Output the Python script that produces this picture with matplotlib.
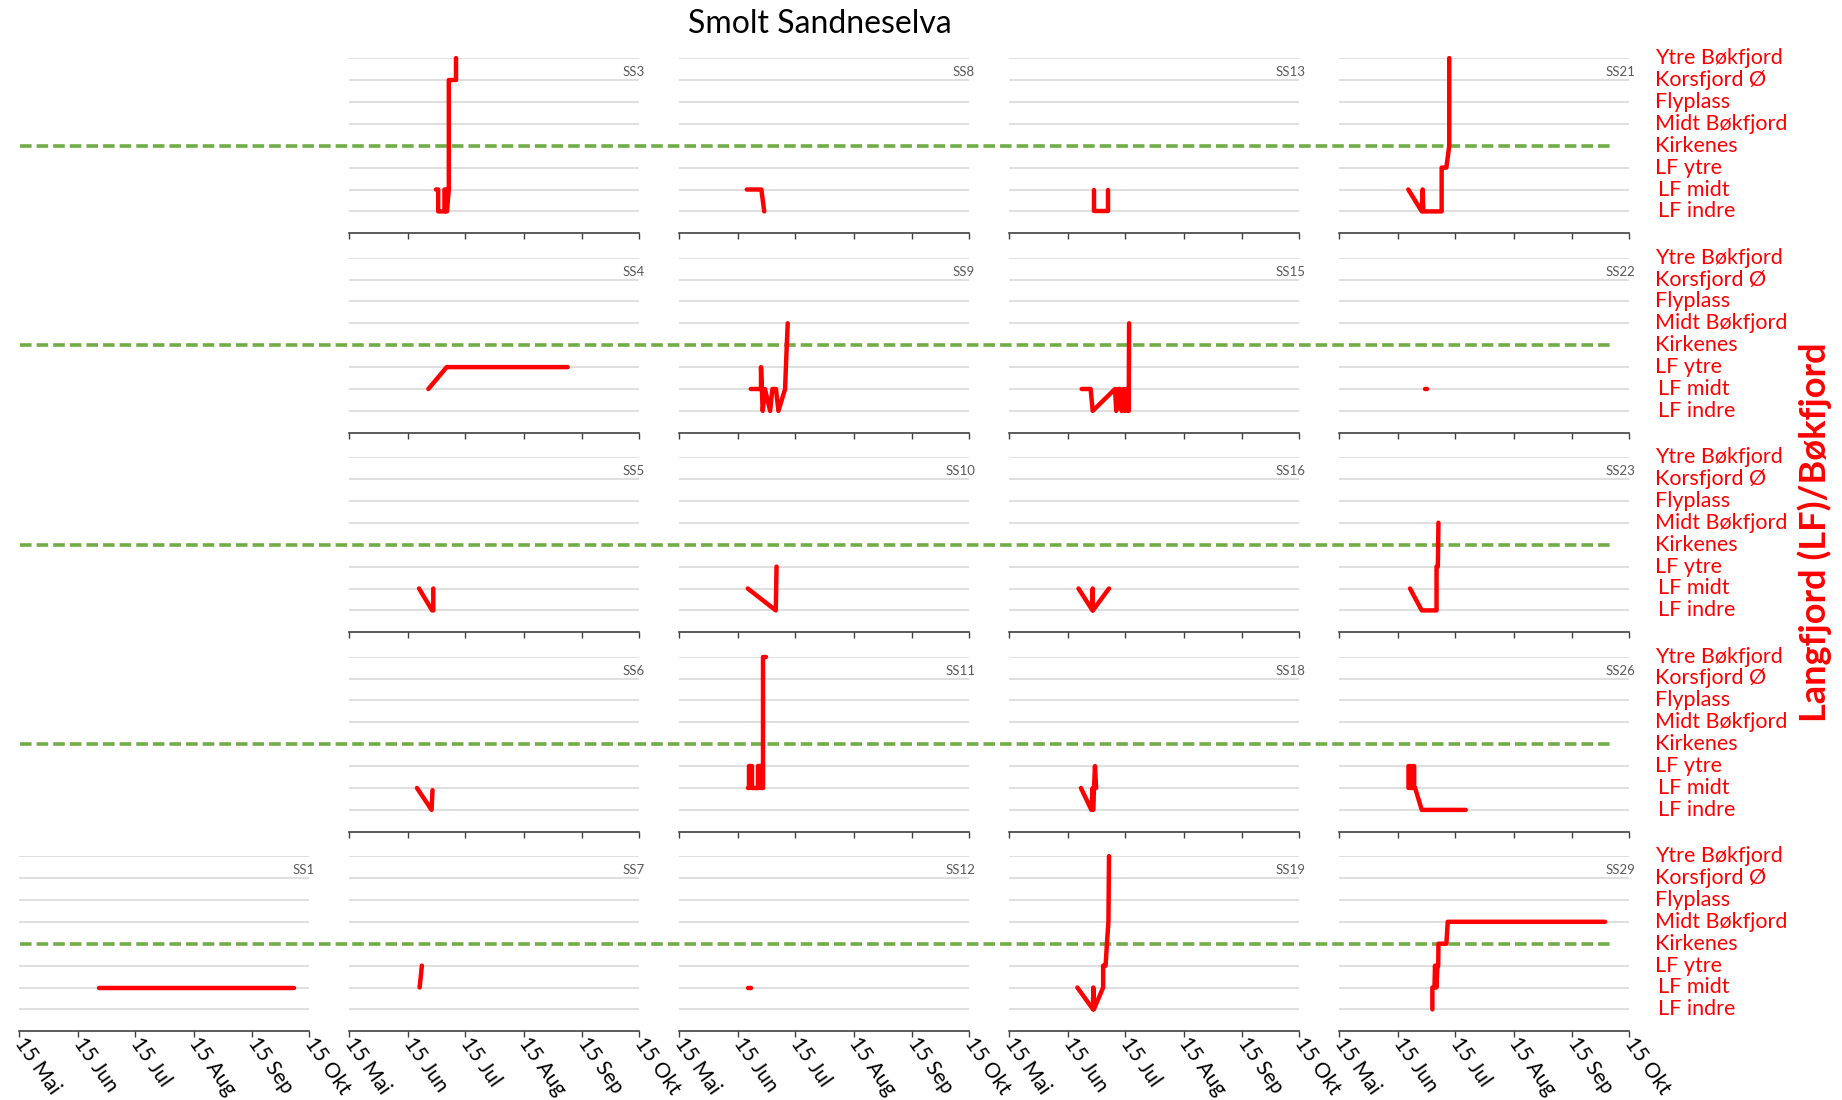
import matplotlib
matplotlib.use("Agg")
import matplotlib.pyplot as plt
from matplotlib.lines import Line2D
from matplotlib.transforms import blended_transform_factory

plt.rcParams['font.family'] = ['Lato', 'DejaVu Sans']

# location levels, bottom (1) to top (8)
locations = ['LF indre', 'LF midt', 'LF ytre', 'Kirkenes',
             'Midt Bøkfjord', 'Flyplass', 'Korsfjord Ø', 'Ytre Bøkfjord']

# x = days after 15 Mai
tick_days = [0, 31, 61, 92, 123, 153]
tick_labels = ['15 Mai', '15 Jun', '15 Jul', '15 Aug', '15 Sep', '15 Okt']

# one track per fish: day and location level
ss1_x = [42.3, 144.8]
ss1_y = [2, 2]
ss3_x = [45.7, 46.9, 46.9, 50.2, 50.2, 50.9, 50.9, 51.5, 52.5, 52.5, 56.3, 56.3]
ss3_y = [2, 2, 1, 1, 2, 2, 1, 1, 2, 7, 7, 8]
ss4_x = [41.7, 51.4, 115.2]
ss4_y = [2, 3, 3]
ss5_x = [36.8, 43.7, 44.3, 44.3]
ss5_y = [2, 1, 1, 2]
ss6_x = [35.7, 43.4, 43.9]
ss6_y = [2, 1, 1.9]
ss7_x = [37.1, 38.3]
ss7_y = [2, 3]
ss8_x = [35.6, 43.3, 44.8]
ss8_y = [2, 2, 1]
ss9_x = [37.7, 43.1, 43.1, 44.0, 45.2, 47.9, 49.1, 51.0, 52.3, 55.8, 56.7, 57.2]
ss9_y = [2, 2, 3, 1, 2, 1, 2, 2, 1, 2, 4, 5]
ss10_x = [36.1, 50.9, 51.3]
ss10_y = [2, 1, 3]
ss11_x = [36.0, 36.6, 36.6, 38.5, 38.5, 41.3, 41.3, 43.3, 43.3, 44.3, 44.3, 45.5]
ss11_y = [2, 2, 3, 3, 2, 2, 3, 3, 2, 2, 8, 8]
ss12_x = [36.5, 37.7]
ss12_y = [2, 2]
ss13_x = [44.9, 44.9, 51.9, 51.9]
ss13_y = [2, 1, 1, 2]
ss15_x = [38.2, 42.9, 44.0, 55.8, 56.4, 57.5, 58.3, 59.3, 60.2, 61.0, 61.8, 62.6, 63.0, 63.2]
ss15_y = [2, 2, 1, 2, 1, 2, 2, 1, 2, 1, 2, 1, 1, 5]
ss16_x = [36.5, 43.9, 44.0, 44.1, 52.6]
ss16_y = [2, 1, 2, 1, 2]
ss18_x = [37.8, 43.3, 44.0, 44.2, 45.2, 45.8]
ss18_y = [2, 1, 2, 1, 3, 2]
ss19_x = [35.9, 44.2, 44.3, 44.6, 49.5, 49.5, 50.8, 51.5, 52.3, 52.6]
ss19_y = [2, 1, 2, 1, 2, 3, 3, 4, 5, 8]
ss21_x = [36.4, 43.5, 44.0, 44.3, 54.0, 54.0, 56.5, 58.0, 58.0]
ss21_y = [2, 1, 2, 1, 1, 3, 3, 4, 8]
ss22_x = [45.2, 46.4]
ss22_y = [2, 2]
ss23_x = [37.3, 43.5, 51.3, 51.3, 52.0, 52.3]
ss23_y = [2, 1, 1, 3, 3, 5]
ss26_x = [36.5, 36.5, 37.5, 37.5, 38.5, 38.5, 39.5, 39.5, 40.0, 43.5, 66.7]
ss26_y = [2, 3, 3, 2, 2, 3, 3, 2, 2, 1, 1]
ss29_x = [49.1, 49.1, 50.2, 50.5, 51.2, 51.8, 52.2, 52.3, 56.5, 57.2, 140.2]
ss29_y = [1, 2, 2, 3, 2, 3, 3, 4, 4, 5, 5]

# grid of panels (row, col) -> (name, x, y); None = empty slot
grid = [
    [None, ('SS3', ss3_x, ss3_y), ('SS8', ss8_x, ss8_y), ('SS13', ss13_x, ss13_y), ('SS21', ss21_x, ss21_y)],
    [None, ('SS4', ss4_x, ss4_y), ('SS9', ss9_x, ss9_y), ('SS15', ss15_x, ss15_y), ('SS22', ss22_x, ss22_y)],
    [None, ('SS5', ss5_x, ss5_y), ('SS10', ss10_x, ss10_y), ('SS16', ss16_x, ss16_y), ('SS23', ss23_x, ss23_y)],
    [None, ('SS6', ss6_x, ss6_y), ('SS11', ss11_x, ss11_y), ('SS18', ss18_x, ss18_y), ('SS26', ss26_x, ss26_y)],
    [('SS1', ss1_x, ss1_y), ('SS7', ss7_x, ss7_y), ('SS12', ss12_x, ss12_y), ('SS19', ss19_x, ss19_y), ('SS29', ss29_x, ss29_y)],
]

W, H = 1842, 1100
fig = plt.figure(figsize=(W / 100, H / 100), dpi=100)

red = '#FF0000'
green = '#70AD47'
gridcol = '#D9D9D9'

col_left = 19.3
col_step = 330
ax_w = 290
row_bottom = 233.3
row_step = 199.5
ax_h = 175.2

for r, row in enumerate(grid):
    bottom_px = row_bottom + row_step * r
    last_ax = None
    for c, panel in enumerate(row):
        if panel is None:
            continue
        name, xs, ys = panel
        left_px = col_left + col_step * c
        ax = fig.add_axes([left_px / W, 1 - bottom_px / H, ax_w / W, ax_h / H])
        ax.patch.set_visible(False)
        ax.set_xlim(0, 153)
        ax.set_ylim(0, 8)
        for lvl in [1, 2, 3, 5, 6, 7, 8]:
            ax.axhline(lvl, color=gridcol, lw=1.2, zorder=1)
        for s in ['top', 'right', 'left']:
            ax.spines[s].set_visible(False)
        ax.spines['bottom'].set_color('#404040')
        ax.spines['bottom'].set_linewidth(1.2)
        ax.set_yticks([])
        ax.set_xticks(tick_days)
        ax.tick_params(axis='x', direction='out', length=4, width=1, color='#404040',
                       labelsize=15, pad=2)
        if r == len(grid) - 1:
            ax.set_xticklabels(tick_labels)
            plt.setp(ax.get_xticklabels(), rotation=-55, ha='left', va='center',
                     rotation_mode='anchor')
        else:
            ax.set_xticklabels([])
        ax.plot(xs, ys, color=red, lw=3.2, solid_capstyle='round',
                solid_joinstyle='round', zorder=5, clip_on=False)
        ax.text(1.02, 7.35, name, transform=blended_transform_factory(ax.transAxes, ax.transData),
                ha='right', va='center', fontsize=9.5, color='#595959')
        last_ax = ax

    # green reference line across the whole row
    tr = blended_transform_factory(fig.transFigure, last_ax.transData)
    fig.add_artist(Line2D([20 / W, 1612 / W], [4, 4], transform=tr, color=green,
                          lw=2.6, dashes=(3.2, 1.4), zorder=-1))

    # location names on the right
    for i, loc in enumerate(locations):
        dx = 3 if loc in ('LF midt', 'LF indre') else 0
        last_ax.text((1655 + dx) / W, i + 1, loc, transform=tr, ha='left', va='center',
                     fontsize=15.5, color=red)

fig.text(820 / W, 1 - 24 / H, 'Smolt Sandneselva', ha='center', va='center', fontsize=23)
fig.text(1815 / W, 1 - 532 / H, 'Langfjord (LF)/Bøkfjord', rotation=90, ha='center',
         va='center', fontsize=26, fontweight='bold', color=red)

fig.savefig('out.png', dpi=100)
